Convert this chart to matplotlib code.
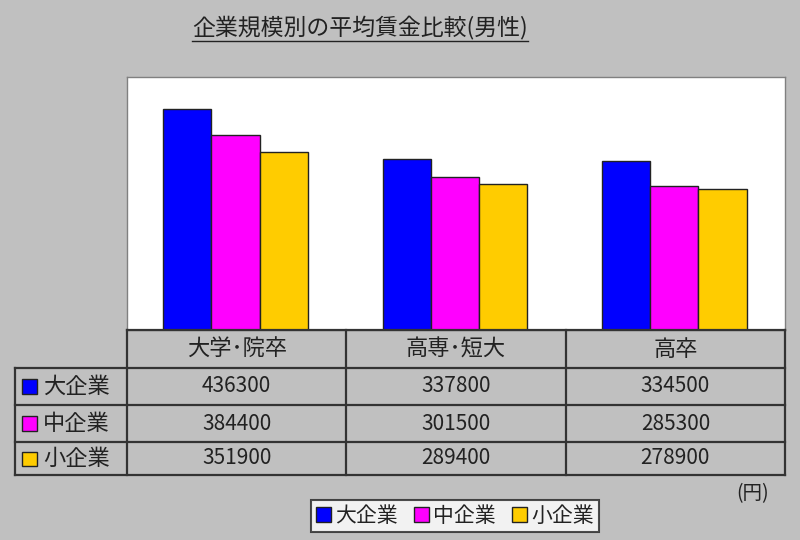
import matplotlib
matplotlib.use("Agg")
import matplotlib.pyplot as plt
from matplotlib.lines import Line2D
from matplotlib.patches import Rectangle
import matplotlib.transforms as mtransforms
import numpy as np

plt.rcParams['font.family'] = ['Noto Sans CJK JP', 'DejaVu Sans']

categories = ['大学･院卒', '高専･短大', '高卒']
series = ['大企業', '中企業', '小企業']
large = [436300, 337800, 334500]
medium = [384400, 301500, 285300]
small = [351900, 289400, 278900]
colors = ['#0000ff', '#ff00ff', '#ffcc00']

W, H = 800, 540
bg = '#c0c0c0'
line_c = '#333333'
txt_c = '#222222'

fig = plt.figure(figsize=(8, 5.4), dpi=100, facecolor=bg)

def fx(px):
    return px / W

def fy(py):
    return 1 - py / H

ax = fig.add_axes([fx(127), fy(330), fx(785) - fx(127), fy(77) - fy(330)])
ax.set_facecolor('white')
for s in ax.spines.values():
    s.set_color('#808080')
    s.set_linewidth(1)
ax.set_xticks([])
ax.set_yticks([])
ax.set_xlim(-0.5, 2.5)
ax.set_ylim(0, 500000)

x = np.arange(len(categories))
w = 0.22
for i, vals in enumerate([large, medium, small]):
    ax.bar(x + (i - 1) * w - 0.005, vals, w, color=colors[i],
           edgecolor=txt_c, linewidth=1)

# data table below the plot
tr = mtransforms.blended_transform_factory(ax.transData, fig.transFigure)
row_y = [330, 368, 405, 442, 475]
bounds = [-0.5, 0.5, 1.5, 2.5]
left_px = 15
lw = 1.6

fig.add_artist(Line2D([fx(127), fx(785)], [fy(330), fy(330)], transform=fig.transFigure,
                      color=line_c, lw=lw))
for yy in row_y[1:]:
    fig.add_artist(Line2D([fx(left_px), fx(785)], [fy(yy), fy(yy)], transform=fig.transFigure,
                          color=line_c, lw=lw))
for b in bounds:
    fig.add_artist(Line2D([b, b], [fy(330), fy(475)], transform=tr, color=line_c, lw=lw))
fig.add_artist(Line2D([fx(left_px), fx(left_px)], [fy(368), fy(475)], transform=fig.transFigure,
                      color=line_c, lw=lw))

# header texts
for i, c in enumerate(categories):
    fig.text(i, fy(349), c, transform=tr, ha='center', va='center', fontsize=16,
             color=txt_c)

# rows
table_vals = [large, medium, small]
for r, name in enumerate(series):
    yc = (row_y[r + 1] + row_y[r + 2]) / 2
    fig.add_artist(Rectangle((fx(22), fy(yc + 7)), fx(15), fy(yc - 7) - fy(yc + 7),
                             transform=fig.transFigure, facecolor=colors[r],
                             edgecolor=txt_c, lw=1))
    fig.text(fx(43), fy(yc), name, ha='left', va='center', fontsize=16, color=txt_c)
    for i, v in enumerate(table_vals[r]):
        fig.text(i, fy(yc), str(v), transform=tr, ha='center', va='center', fontsize=15,
                 color=txt_c)

# title
t = fig.text(fx(360), fy(27), '企業規模別の平均賃金比較(男性)', ha='center', va='center',
             fontsize=16.5, color=txt_c)
fig.canvas.draw()
bb = t.get_window_extent()
fig.add_artist(Line2D([bb.x0 / W, bb.x1 / W], [fy(41), fy(41)], transform=fig.transFigure,
                      color=txt_c, lw=1))

# unit
fig.text(fx(753), fy(494), '(円)', ha='center', va='center', fontsize=14, color=txt_c)

# legend
handles = [Rectangle((0, 0), 1, 1, facecolor=colors[i], edgecolor=txt_c, lw=1)
           for i in range(3)]
leg = fig.legend(handles, series, loc='center', bbox_to_anchor=(fx(455), fy(516)),
                 ncol=3, fontsize=15, frameon=True, fancybox=False, handlelength=0.7,
                 handleheight=0.7, handletextpad=0.2, columnspacing=0.8,
                 borderpad=0.25, borderaxespad=0)
leg.get_frame().set_edgecolor(txt_c)
leg.get_frame().set_linewidth(1.5)
leg.get_frame().set_facecolor('white')
for txt in leg.get_texts():
    txt.set_color(txt_c)

fig.savefig('out.png', dpi=100, facecolor=bg)
